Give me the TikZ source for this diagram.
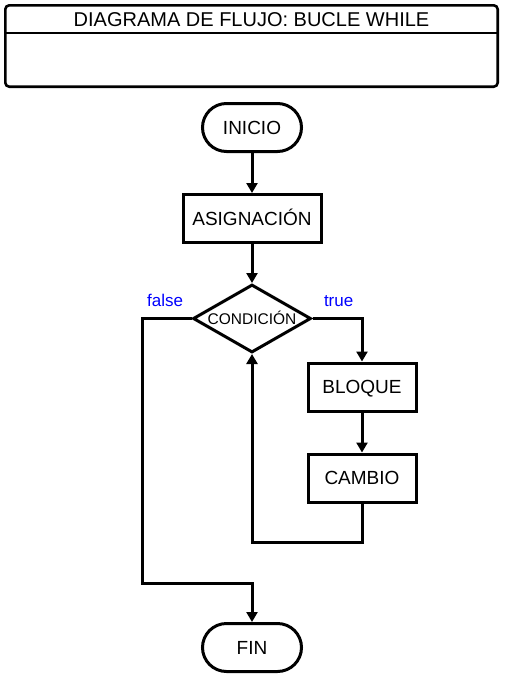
\documentclass[tikz,border=0pt]{standalone}
\usepackage{fontspec}
\setmainfont{Liberation Sans}
\usetikzlibrary{arrows.meta,positioning,shapes.geometric}

\begin{document}
\begin{tikzpicture}[
    x=1pt, y=-1pt,
    node distance=40pt,
    line width=3pt,
    box/.style={draw, minimum width=108pt, minimum height=48pt, font=\fontsize{19}{23}\selectfont, text height=13.6pt, text depth=0pt},
    term/.style={box, rounded corners=24pt, minimum width=99pt},
    decision/.style={draw, diamond, aspect=1.74, minimum width=118pt, minimum height=68pt, inner sep=0pt, font=\fontsize{15.5}{19}\selectfont, text height=11.1pt, text depth=0pt},
    branch/.style={text=blue, inner sep=0pt, font=\fontsize{17}{20}\selectfont},
    arrow/.style={-{Triangle[width=11pt,length=10pt]}}
  ]
    \useasboundingbox (0,0) rectangle (505,678);
    % title frame
    \draw[rounded corners=4pt, line width=2.6pt] (5.3,5.3) rectangle (497.7,86.7);
    \draw[line width=2.6pt] (5.3,33) -- (497.7,33);
    \node[font=\fontsize{20}{24}\selectfont, anchor=base] (titulo) at (251.5,26) {DIAGRAMA DE FLUJO: BUCLE WHILE};

    \node[term] (inicio) at (252,127.5) {INICIO};
    \node[box, below=of inicio, minimum width=138pt] (asig) {ASIGNACIÓN};
    \node[decision, below=39pt of asig] (cond) {CONDICIÓN};
    \node[box] (bloque) at (362,387) {BLOQUE};
    \node[box, below=of bloque] (cambio) {CAMBIO};
    \node[term] (fin) at (252,647.5) {FIN};
    \node[branch, above left=10pt and 7pt of cond.west] (falso) {false};
    \node[branch, above right=10pt and 10pt of cond.east] (cierto) {true};

    \coordinate (vuelta) at (252,542);
    \coordinate (salida) at (142,583);

    \draw[arrow] (inicio.south) -- (asig.north);
    \draw[arrow] (asig.south) -- (cond.north);
    \draw[arrow] (cond.east) -| (bloque.north);
    \draw[arrow] (bloque.south) -- (cambio.north);
    \draw[arrow] (cambio.south) |- (vuelta) -- (cond.south);
    \draw[arrow] (cond.west) -| (salida) -| (fin.north);
  \end{tikzpicture}
\end{document}
